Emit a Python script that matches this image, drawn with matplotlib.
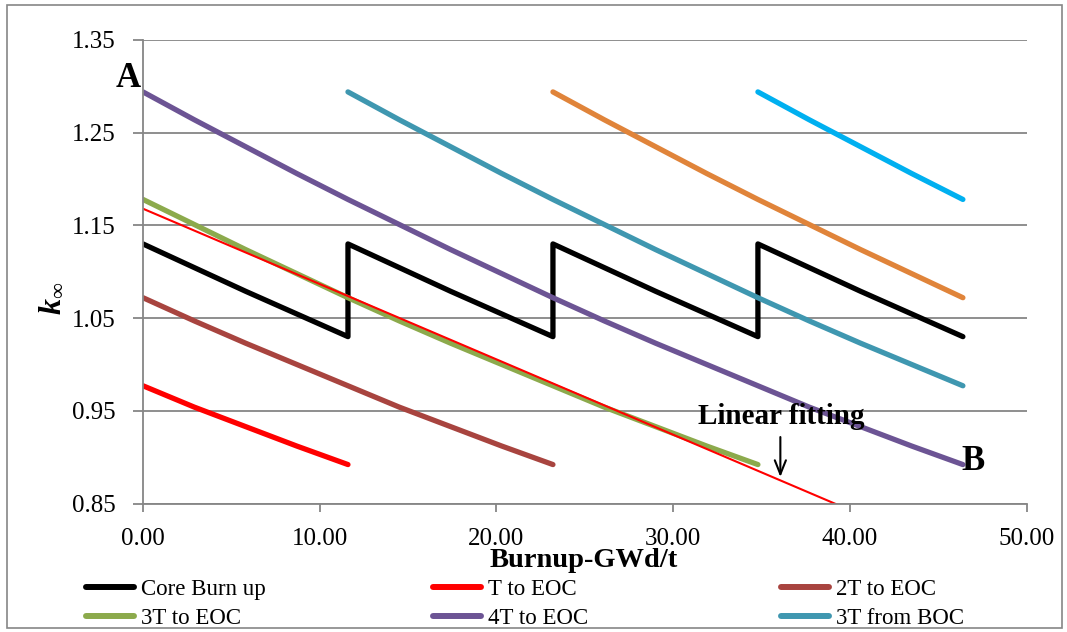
import matplotlib
matplotlib.use("Agg")
import matplotlib.pyplot as plt
from matplotlib.patches import Rectangle

plt.rcParams["font.family"] = ["Liberation Serif", "DejaVu Serif"]
plt.rcParams["mathtext.fontset"] = "custom"
plt.rcParams["mathtext.rm"] = "Liberation Serif"
plt.rcParams["mathtext.it"] = "Liberation Serif:italic"
plt.rcParams["mathtext.bf"] = "Liberation Serif:italic:bold"

# ---- data: k-infinity versus burnup (GWd/t) ----
burnup_core = [0.0, 5.8, 11.6, 11.6, 17.4, 23.2, 23.2, 29.0, 34.8, 34.8, 40.6, 46.4]
k_core = [1.130, 1.079, 1.030, 1.130, 1.079, 1.030, 1.130, 1.079, 1.030, 1.130, 1.079, 1.030]

burnup_t_eoc = [0.0, 2.9, 5.8, 8.7, 11.6]
k_t_eoc = [0.977, 0.954, 0.933, 0.912, 0.892]

burnup_2t_eoc = [0.0, 2.9, 5.8, 8.7, 11.6, 14.5, 17.4, 20.3, 23.2]
k_2t_eoc = [1.072, 1.047, 1.023, 1.000, 0.977, 0.954, 0.933, 0.912, 0.892]

burnup_3t_eoc = [0.0, 2.9, 5.8, 8.7, 11.6, 14.5, 17.4, 20.3, 23.2, 26.1, 29.0, 31.9, 34.8]
k_3t_eoc = [1.178, 1.151, 1.124, 1.098, 1.072, 1.047, 1.023, 1.000, 0.977, 0.954, 0.933, 0.912, 0.892]

burnup_4t_eoc = [0.0, 2.9, 5.8, 8.7, 11.6, 14.5, 17.4, 20.3, 23.2, 26.1, 29.0, 31.9,
                 34.8, 37.7, 40.6, 43.5, 46.4]
k_4t_eoc = [1.294, 1.264, 1.235, 1.206, 1.178, 1.151, 1.124, 1.098, 1.072, 1.047, 1.023, 1.000,
            0.977, 0.954, 0.933, 0.912, 0.892]

burnup_3t_boc = [11.6, 14.5, 17.4, 20.3, 23.2, 26.1, 29.0, 31.9, 34.8, 37.7, 40.6, 43.5, 46.4]
k_3t_boc = [1.294, 1.264, 1.235, 1.206, 1.178, 1.151, 1.124, 1.098, 1.072, 1.047, 1.023, 1.000, 0.977]

burnup_2t_boc = [23.2, 26.1, 29.0, 31.9, 34.8, 37.7, 40.6, 43.5, 46.4]
k_2t_boc = [1.294, 1.264, 1.235, 1.206, 1.178, 1.151, 1.124, 1.098, 1.072]

burnup_1t_boc = [34.8, 37.7, 40.6, 43.5, 46.4]
k_1t_boc = [1.294, 1.264, 1.235, 1.206, 1.178]

# straight-line fit of the 3T to EOC curve
burnup_fit = [0.0, 40.0]
k_fit = [1.168, 0.843]

x_ticks = [0, 10, 20, 30, 40, 50]
y_ticks = [0.85, 0.95, 1.05, 1.15, 1.25, 1.35]

GRAY = "#868686"

fig = plt.figure(figsize=(10.67, 6.32), dpi=100)
W, H = 1067, 632
ax = fig.add_axes([143 / W, 1 - 503.5 / H, (1026.5 - 143) / W, (503.5 - 40) / H])

style = dict(lw=3.8, solid_capstyle="round", solid_joinstyle="round")
h_core, = ax.plot(burnup_core, k_core, color="#000000", label="Core Burn up", **style)
h_t, = ax.plot(burnup_t_eoc, k_t_eoc, color="#FF0000", label="T to EOC", **style)
h_2t, = ax.plot(burnup_2t_eoc, k_2t_eoc, color="#A8443F", label="2T to EOC", **style)
h_3t, = ax.plot(burnup_3t_eoc, k_3t_eoc, color="#8CAA4C", label="3T to EOC", **style)
h_4t, = ax.plot(burnup_4t_eoc, k_4t_eoc, color="#6C5494", label="4T to EOC", **style)
h_boc, = ax.plot(burnup_3t_boc, k_3t_boc, color="#3F97B0", label="3T from BOC", **style)
ax.plot(burnup_2t_boc, k_2t_boc, color="#E0843A", **style)
ax.plot(burnup_1t_boc, k_1t_boc, color="#00B0F0", **style)
ax.plot(burnup_fit, k_fit, color="#FF0000", lw=1.5)

ax.set_xlim(0, 50)
ax.set_ylim(0.85, 1.35)
ax.set_xticks(x_ticks)
ax.set_xticklabels([f"{v:.2f}" for v in x_ticks])
ax.set_yticks(y_ticks)
ax.set_yticklabels([f"{v:.2f}" for v in y_ticks])
ax.yaxis.grid(True, color=GRAY, lw=1.3)
ax.set_axisbelow(True)
for side in ("top", "right"):
    ax.spines[side].set_visible(False)
for side in ("left", "bottom"):
    ax.spines[side].set_color(GRAY)
    ax.spines[side].set_linewidth(1.3)
ax.tick_params(axis="y", length=7, width=1.3, color=GRAY, pad=12.5, labelsize=18)
ax.tick_params(axis="x", length=6, width=1.3, color=GRAY, pad=11.5, labelsize=18)

# axis titles
fig.text(584 / W, 1 - 567 / H, "Burnup-GWd/t", ha="center", va="baseline",
         fontsize=20.5, fontweight="bold")
fig.text(52 / W, 1 - 298 / H, r"$\mathbf{k}_{\infty}$", rotation=90,
         ha="center", va="center", fontsize=23)

# annotations
ax.text(-0.85, 1.309, "A", ha="center", va="center", fontsize=25, fontweight="bold")
ax.text(46.95, 0.895, "B", ha="center", va="center", fontsize=25, fontweight="bold")
ax.text(31.4, 0.9355, "Linear fitting", ha="left", va="baseline", fontsize=21,
        fontweight="bold")
ax.annotate("", xy=(36.07, 0.8786), xytext=(36.07, 0.9217),
            arrowprops=dict(arrowstyle="->,head_length=1.0,head_width=0.4",
                            color="black", lw=1.5, shrinkA=0, shrinkB=0))

# legend laid out in three columns of two rows
leg_kw = dict(loc="center left", frameon=False, fontsize=16.5, borderpad=0,
              borderaxespad=0, handlelength=2.1, handletextpad=0.3,
              labelspacing=0.35)
for handles, x0 in (([h_core, h_3t], 86), ([h_t, h_4t], 433), ([h_2t, h_boc], 781)):
    leg = fig.legend(handles=handles, bbox_to_anchor=(x0 / W, 1 - 604 / H), **leg_kw)
    for line in leg.get_lines():
        line.set_linewidth(4.3)

# chart-area border
fig.patches.append(Rectangle((7 / W, 1 - 628 / H), 1055 / W, 623 / H,
                             transform=fig.transFigure, fill=False,
                             edgecolor=GRAY, lw=1.2))

fig.savefig("out.png", dpi=100)
